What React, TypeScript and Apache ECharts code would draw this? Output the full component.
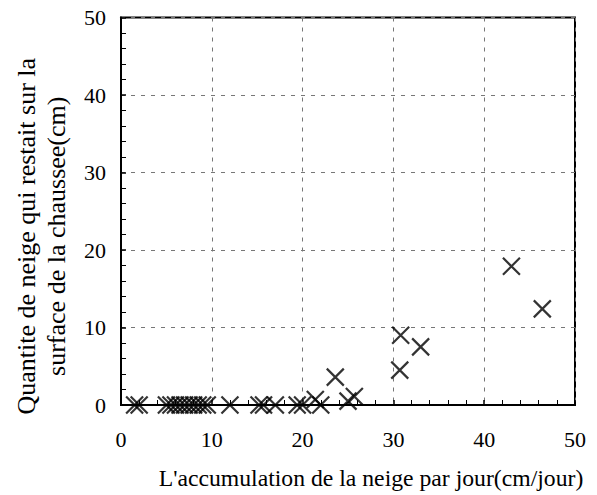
import React, { useEffect, useRef } from "react";
import * as echarts from "echarts";

const xValues = [1.5, 2.0, 5.0, 5.5, 6.0, 6.5, 7.0, 7.5, 8.0, 8.5, 9.0, 9.5, 12.0, 15.2, 15.7, 17.0, 19.4, 20.0, 21.4, 22.0, 23.6, 25.0, 25.7, 30.7, 30.8, 33.0, 43.0, 46.4];
const yValues = [0, 0, 0, 0, 0, 0, 0, 0, 0, 0, 0, 0, 0, 0, 0, 0, 0, 0, 0.7, 0, 3.6, 0.5, 1.1, 4.5, 9.0, 7.5, 17.9, 12.4];
const xTitle = "L'accumulation de la neige par jour(cm/jour)";
const yTitle = "Quantite de neige qui restait sur la\nsurface de la chaussee(cm)";

const FONT = "Liberation Serif";

export default function App() {
  const ref = useRef<HTMLDivElement>(null);
  useEffect(() => {
    if (!ref.current) return;
    const chart = echarts.init(ref.current, undefined, { renderer: "svg" });
    const data = xValues.map((x, i) => [x, yValues[i]]);
    const axisCommon = {
      min: 0,
      max: 50,
      interval: 10,
      axisLine: { show: true, lineStyle: { color: "#000", width: 2 } },
      axisTick: { show: true, inside: true, length: 5, lineStyle: { color: "#000", width: 1.5 } },
      minorTick: { show: true, splitNumber: 5, length: 5, lineStyle: { color: "#000", width: 1 } },
      splitLine: { show: true, lineStyle: { color: "#777", width: 1, type: [4, 6] } },
    };
    chart.setOption({
      animation: false,
      backgroundColor: "#fff",
      textStyle: { fontFamily: FONT, color: "#000" },
      grid: {
        left: 121,
        right: 22,
        top: 17.5,
        bottom: 89,
        show: true,
        borderColor: "#000",
        borderWidth: 2,
        backgroundColor: "transparent",
      },
      xAxis: {
        type: "value",
        ...axisCommon,
        name: xTitle,
        nameLocation: "middle",
        nameGap: 61,
        nameTextStyle: { fontFamily: FONT, fontSize: 23.7, color: "#000", padding: [0, 0, 0, 46] },
        axisLabel: { fontFamily: FONT, fontSize: 22, color: "#000", margin: 23 },
      },
      yAxis: {
        type: "value",
        ...axisCommon,
        name: yTitle,
        nameLocation: "middle",
        nameGap: 50,
        nameTextStyle: { fontFamily: FONT, fontSize: 26, color: "#000", lineHeight: 30, padding: [0, 50, 0, 0] },
        axisLabel: { fontFamily: FONT, fontSize: 22, color: "#000", margin: 15 },
      },
      series: [
        {
          type: "scatter",
          data,
          clip: false,
          symbol: "path://M0,0L10,10M10,0L0,10",
          symbolSize: 17,
          itemStyle: { color: "none", borderColor: "#000", borderWidth: 2.2 },
        },
      ],
    });
    return () => chart.dispose();
  }, []);
  return <div ref={ref} style={{ width: 597, height: 495, position: "absolute", left: 0, top: 0 }} />;
}
